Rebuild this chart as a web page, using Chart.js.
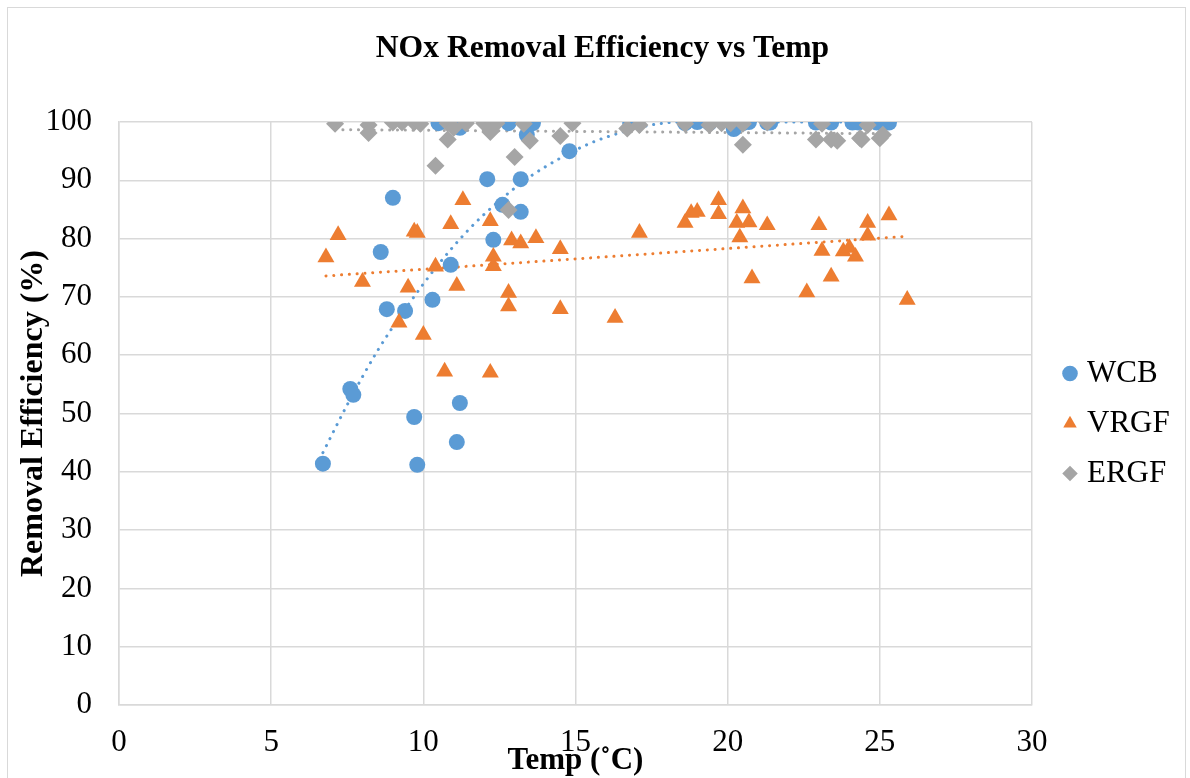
<!DOCTYPE html>
<html>
<head>
<meta charset="utf-8">
<title>NOx Removal Efficiency vs Temp</title>
<script src="https://cdn.jsdelivr.net/npm/chart.js@4.4.1/dist/chart.umd.min.js"></script>
<style>
  html, body { margin: 0; padding: 0; background: #fff; overflow: hidden; }
  .frame { position: absolute; left: 7px; top: 7px; width: 1179px; height: 800px; border: 1px solid #d9d9d9; box-sizing: border-box; }
  .wrap { position: absolute; left: 0; top: 0; width: 1190px; height: 778px; }
</style>
</head>
<body>
<div class="frame"></div>
<div class="wrap"><canvas id="noxChart"></canvas></div>
<script>
// values

// WCB
const wcbTemp = [6.7, 7.6, 7.7, 8.6, 9.0, 8.8, 9.4, 9.7, 9.8, 10.3, 10.9, 11.2, 11.1, 10.5, 11.2,
  12.1, 12.3, 12.6, 13.2, 13.2, 12.8, 13.6, 13.4, 14.8, 16.8, 18.6, 19.0, 19.4, 20.2, 20.5,
  20.7, 21.3, 21.4, 22.9, 23.4, 24.1, 24.3, 24.6, 24.9, 25.1, 25.3];
const wcbEff = [41.4, 54.2, 53.2, 77.7, 87.0, 67.9, 67.6, 49.4, 41.2, 69.5, 75.5, 51.8, 45.1, 99.8, 99.0,
  90.2, 79.8, 85.8, 90.2, 84.6, 99.8, 99.8, 97.8, 95.0, 99.8, 99.8, 100, 99.8, 98.8, 99.8,
  100, 99.9, 99.9, 99.9, 99.9, 99.9, 99.9, 99.9, 99.9, 99.9, 99.9];

// VRGF
const vrgfTemp = [6.8, 7.2, 8.0, 9.2, 9.5, 9.7, 9.8, 10.0, 10.4, 10.7, 10.9, 11.1, 11.3,
  12.2, 12.2, 12.3, 12.3, 12.8, 12.8, 12.9, 13.2, 13.7, 14.5, 14.5, 16.3, 17.1,
  18.6, 18.8, 19.0, 19.7, 19.7, 20.3, 20.5, 20.7, 20.4, 21.3, 20.8,
  22.6, 23.0, 23.1, 23.4, 23.8, 24.0, 24.2, 24.6, 24.6, 25.3, 25.9];
const vrgfEff = [76.8, 80.6, 72.6, 65.6, 71.6, 81.2, 81.0, 63.5, 75.2, 57.2, 82.5, 71.9, 86.6,
  57.0, 83.0, 76.9, 75.3, 70.7, 68.4, 79.7, 79.2, 80.1, 78.2, 67.9, 66.4, 81.0,
  82.7, 84.4, 84.6, 86.6, 84.2, 82.7, 85.2, 82.8, 80.2, 82.3, 73.2,
  70.8, 82.3, 77.9, 73.5, 77.8, 78.4, 76.9, 82.7, 80.5, 84.0, 69.5];

// ERGF
const ergfTemp = [7.1, 8.2, 8.2, 9.0, 9.3, 9.7, 9.9, 10.4, 10.8, 11.0, 10.8, 11.4, 12.0, 12.3,
  12.4, 12.2, 13.0, 12.8, 13.3, 13.5, 14.5, 14.9, 16.7, 17.1, 18.6, 19.4, 19.8, 20.1,
  20.5, 20.5, 21.3, 23.1, 22.9, 23.4, 23.6, 24.4, 24.6, 25.0, 24.35, 25.1];
const ergfEff = [99.7, 99.5, 98.1, 99.9, 99.9, 99.9, 99.7, 92.5, 99.8, 99.0, 97.0, 99.8, 99.8, 99.8,
  99.8, 98.3, 94.0, 84.9, 99.7, 96.8, 97.6, 99.8, 98.9, 99.5, 99.7, 99.5, 99.8, 99.8,
  99.7, 96.1, 99.9, 99.7, 97.0, 97.0, 96.8, 97.0, 99.5, 97.2, 97.2, 97.8];

// dotted trendlines, points
const wcbTrendTemp = [6.7, 7.5, 8.5, 9.5, 10.5, 11.5, 12.5, 13.5, 14.5, 15.5, 16.5, 17.5, 18.5, 20, 22, 25.3];
const wcbTrendEff = [43.3, 51.5, 60.8, 68.6, 75.6, 81.6, 86.5, 90.6, 93.8, 96.4, 98.2, 99.5, 100, 100, 100, 100];
const vrgfTrendTemp = [6.8, 25.9];
const vrgfTrendEff = [73.6, 80.4];
const ergfTrendTemp = [7.1, 25.1];
const ergfTrendEff = [98.7, 98.0];

const xTicks = [0, 5, 10, 15, 20, 25, 30];
const yTicks = [0, 10, 20, 30, 40, 50, 60, 70, 80, 90, 100];

const toPoints = (xs, ys) => xs.map((x, i) => ({ x: x, y: ys[i] }));

const blue = '#5B9BD5';
const orange = '#ED7D31';
const gray = '#A5A5A5';
const gridColor = '#d9d9d9';

Chart.defaults.font.family = "'Liberation Serif', 'Times New Roman', serif";
Chart.defaults.color = '#000';

function markers(label, xs, ys, color, style, radius, order) {
  return {
    label: label,
    data: toPoints(xs, ys),
    backgroundColor: color,
    borderColor: color,
    borderWidth: 0,
    pointStyle: style,
    pointRadius: radius,
    pointBorderWidth: 0,
    order: order
  };
}

function trend(xs, ys, color, order) {
  return {
    label: 'trend',
    data: toPoints(xs, ys),
    showLine: true,
    borderColor: color,
    borderWidth: 3,
    borderDash: [0.1, 7.7],
    borderCapStyle: 'round',
    cubicInterpolationMode: 'monotone',
    pointRadius: 0,
    order: order
  };
}

// keep the legend in the right margin, a bit in from the plot edge
const legendSpot = {
  id: 'legendSpot',
  beforeLayout(chart) {
    const lg = chart.legend;
    if (lg && !lg._fixedWidth) {
      const fit = lg.fit;
      lg.fit = function () { fit.call(this); this.width = 158; };
      lg._fixedWidth = true;
    }
  },
  afterLayout(chart) {
    const lg = chart.legend;
    lg.left += 17.5;
    lg.right += 17.5;
    lg.top += 10;
    lg.bottom += 10;
  }
};

const ctx = document.getElementById('noxChart').getContext('2d');

new Chart(ctx, {
  type: 'scatter',
  data: {
    datasets: [
      markers('WCB', wcbTemp, wcbEff, blue, 'circle', 8, 3),
      markers('VRGF', vrgfTemp, vrgfEff, orange, 'triangle', 9.8, 2),
      markers('ERGF', ergfTemp, ergfEff, gray, 'rectRot', 9, 1),
      trend(wcbTrendTemp, wcbTrendEff, blue, 6),
      trend(vrgfTrendTemp, vrgfTrendEff, orange, 5),
      trend(ergfTrendTemp, ergfTrendEff, gray, 4)
    ]
  },
  options: {
    responsive: true,
    maintainAspectRatio: false,
    animation: false,
    layout: { padding: { left: 15 } },
    plugins: {
      title: {
        display: true,
        text: 'NOx Removal Efficiency vs Temp',
        font: { size: 31.6, weight: 'bold' },
        padding: { top: 29.5, bottom: 54.6 }
      },
      legend: {
        position: 'right',
        fullSize: false,
        labels: {
          usePointStyle: true,
          boxWidth: 3,
          boxHeight: 11,
          padding: 19,
          font: { size: 31 },
          filter: item => item.datasetIndex < 3,
          sort: (a, b) => a.datasetIndex - b.datasetIndex
        }
      },
      tooltip: { enabled: false }
    },
    scales: {
      x: {
        type: 'linear',
        min: 0,
        max: 30,
        afterBuildTicks: axis => { axis.ticks = xTicks.map(v => ({ value: v })); },
        afterFit: axis => { axis.height = 73; },
        ticks: { padding: 19, maxRotation: 0, font: { size: 31 } },
        grid: { color: gridColor, lineWidth: 1.5, drawTicks: false },
        border: { color: gridColor, width: 1.5 },
        title: {
          display: true,
          text: 'Temp (˚C)',
          font: { size: 31, weight: 'bold' },
          padding: { top: 0, bottom: -2 }
        }
      },
      y: {
        min: 0,
        max: 100,
        afterBuildTicks: axis => { axis.ticks = yTicks.map(v => ({ value: v })); },
        afterFit: axis => { axis.width = 104; },
        ticks: { padding: 27, font: { size: 31 } },
        grid: { color: gridColor, lineWidth: 1.5, drawTicks: false },
        border: { color: gridColor, width: 1.5 },
        title: {
          display: true,
          text: 'Removal Efficiency (%)',
          font: { size: 32, weight: 'bold' },
          padding: { top: 0, bottom: 0 }
        }
      }
    }
  },
  plugins: [legendSpot]
});
</script>
</body>
</html>
